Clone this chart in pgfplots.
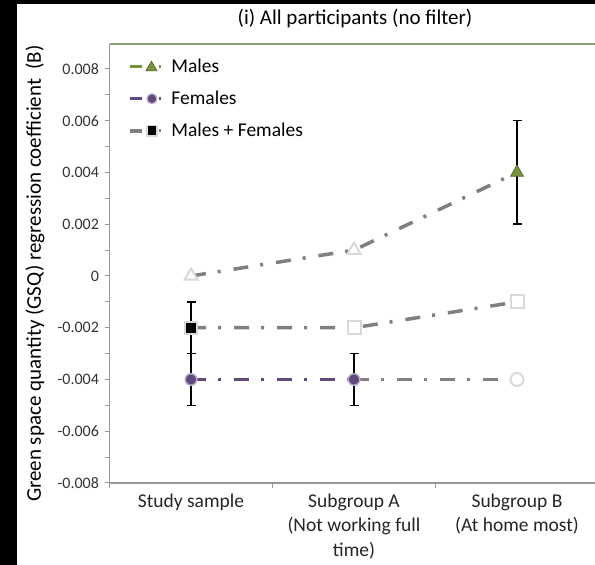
\documentclass[border=0pt]{standalone}
\usepackage{pgfplots}
\pgfplotsset{compat=1.18}
\usepackage{fontspec}
\setmainfont{Carlito}

\definecolor{mgreen}{RGB}{119,147,60}
\definecolor{mgreendark}{RGB}{79,98,40}
\definecolor{fpurple}{RGB}{96,74,123}
\definecolor{fpurplelight}{RGB}{190,176,210}
\definecolor{linegray}{RGB}{128,128,128}
\definecolor{opengray}{RGB}{217,217,217}
\definecolor{axgray}{RGB}{152,152,152}
\definecolor{topline}{RGB}{140,158,115}

\pgfplotsset{
  dashdot/.style={line width=3.5pt, dash pattern=on 15pt off 12pt on 3pt off 13pt},
  errstyle/.style={error bars/.cd, y dir=both, y explicit,
    error bar style={black, line width=1.5pt, solid},
    error mark options={black, line width=1.5pt, mark size=4.5pt, solid, rotate=90}},
}

\begin{document}
\begin{tikzpicture}[x=1pt,y=1pt]
\fill[black] (0,0) rectangle (595,565);
\fill[white] (17,0) rectangle (595,561);
\path[use as bounding box] (0,0) rectangle (595,565);
\begin{axis}[
  at={(109.5pt,82pt)}, anchor=south west,
  scale only axis, width=485.5pt, height=439pt,
  xmin=-0.5, xmax=2.4785,
  ymin=-0.008, ymax=0.008966,
  clip=false,
  axis lines*=left,
  axis line style={axgray, line width=1.5pt},
  tick align=outside,
  major tick length=5pt, minor tick length=5pt,
  every tick/.style={axgray, line width=1pt},
  xtick={0,1,2},
  xticklabels={Study sample,{Subgroup A\\(Not working full\\time)},{Subgroup B\\(At home most)}},
  major x tick style={draw=none},
  minor xtick={-0.5,0.5,1.5},
  xticklabel style={font=\fontsize{19.5}{24.5}\selectfont, align=center, text=black!85, yshift=-2pt},
  ytick={-0.008,-0.006,-0.004,-0.002,0,0.002,0.004,0.006,0.008},
  yticklabels={-0.008,-0.006,-0.004,-0.002,0,0.002,0.004,0.006,0.008},
  minor ytick={-0.007,-0.005,-0.003,-0.001,0.001,0.003,0.005,0.007},
  scaled y ticks=false,
  yticklabel style={font=\fontsize{16}{19}\selectfont, text=black!80, xshift=-2pt},
  ylabel={Green space quantity (GSQ) regression coefficient\ \ (B)},
  ylabel style={at={(rel axis cs:-0.1535,0.477)}, anchor=center, font=\fontsize{21}{25}\selectfont},
  title={(i) All participants (no filter)},
  title style={at={(rel axis cs:0.5057,1.0433)}, anchor=center, font=\fontsize{21}{25}\selectfont},
  legend style={at={(rel axis cs:0.032,0.975)}, anchor=north west, draw=none, fill=none,
    font=\fontsize{19.5}{24}\selectfont, row sep=13pt,
    nodes={inner sep=2pt},
    /tikz/every odd column/.append style={column sep=7pt}},
  legend cell align=left,
]

% legend entries: short dash, marker, short dot
\addlegendimage{legend image code/.code={
  \draw[mgreen, line width=3.5pt] (0pt,0pt) -- (12pt,0pt);
  \draw[mgreen, line width=3pt] (29pt,0pt) -- (31pt,0pt);
  \draw[mark=triangle*, mark size=6.5pt, mark options={fill=mgreen, draw=mgreendark, line width=0.6pt}] plot coordinates {(21.5pt,-1pt)};
}}
\addlegendentry{Males}
\addlegendimage{legend image code/.code={
  \draw[fpurple, line width=3.5pt] (0pt,0pt) -- (12pt,0pt);
  \draw[fpurple, line width=3pt] (29pt,0pt) -- (31pt,0pt);
  \draw[mark=*, mark size=5pt, mark options={fill=fpurple, draw=fpurplelight, line width=1.2pt}] plot coordinates {(22pt,0pt)};
}}
\addlegendentry{Females}
\addlegendimage{legend image code/.code={
  \draw[linegray, line width=3.5pt] (0pt,0pt) -- (12pt,0pt);
  \draw[linegray, line width=3pt] (29pt,0pt) -- (31pt,0pt);
  \draw[mark=square*, mark size=5.2pt, mark options={fill=black, draw=opengray, line width=1.5pt}] plot coordinates {(22pt,0pt)};
}}
\addlegendentry{Males + Females}

% connecting lines
\addplot[linegray, dashdot, forget plot] coordinates {(0,0) (1,0.001) (2,0.004)};
\addplot[linegray, dashdot, forget plot] coordinates {(0,-0.002) (1,-0.002) (2,-0.001)};
\addplot[fpurple, dashdot, forget plot] coordinates {(0,-0.004) (1,-0.004)};
\addplot[linegray, dashdot, forget plot] coordinates {(1,-0.004) (2,-0.004)};

% non-significant estimates (open markers)
\addplot[only marks, forget plot, mark=triangle*, mark size=7.5pt,
  mark options={fill=white, draw=opengray, line width=2pt}]
  coordinates {(0,0) (1,0.001)};
\addplot[only marks, forget plot, mark=square*, mark size=6.5pt,
  mark options={fill=white, draw=opengray, line width=2pt}]
  coordinates {(1,-0.002) (2,-0.001)};
\addplot[only marks, forget plot, mark=*, mark size=6.5pt,
  mark options={fill=white, draw=opengray, line width=2pt}]
  coordinates {(2,-0.004)};

% significant estimates with confidence intervals
\addplot[only marks, forget plot, mark=triangle*, mark size=7.5pt,
  mark options={fill=mgreen, draw=mgreendark, line width=0.6pt}, errstyle]
  coordinates {(2,0.004) +- (0,0.002)};
\addplot[only marks, forget plot, mark=*, mark size=5.8pt,
  mark options={fill=fpurple, draw=fpurplelight, line width=1.4pt}, errstyle]
  coordinates {(0,-0.004) +- (0,0.001) (1,-0.004) +- (0,0.001)};
\addplot[only marks, forget plot, mark=square*, mark size=6pt,
  mark options={fill=black, draw=opengray, line width=2pt}, errstyle]
  coordinates {(0,-0.002) +- (0,0.001)};

% top edge of the plot area
\draw[topline, line width=1.8pt] (rel axis cs:0,1) -- (rel axis cs:1,1);
\end{axis}
\end{tikzpicture}
\end{document}
